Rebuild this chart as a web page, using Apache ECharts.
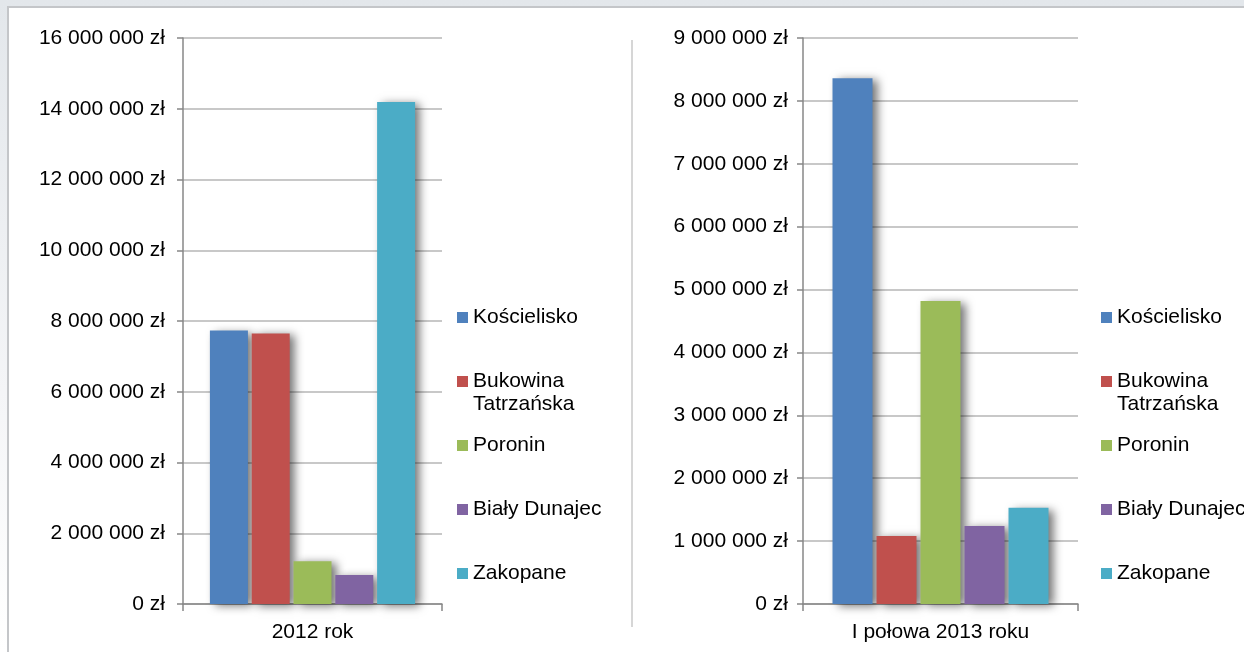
<!DOCTYPE html>
<html lang="pl">
<head>
<meta charset="utf-8">
<title>Wpływy gmin</title>
<script src="https://cdn.jsdelivr.net/npm/echarts@6/dist/echarts.min.js"></script>
<style>
  html, body { margin: 0; padding: 0; width: 1244px; height: 652px; overflow: hidden; }
  body { background: linear-gradient(#e3e7eb, #f4f5f7 60%, #ffffff); position: relative; }
  #frame {
    position: absolute; left: 7px; top: 6px; right: -10px; bottom: -10px;
    background: #ffffff;
    border-top: 2px solid #c4c6c9; border-left: 2px solid #c4c6c9;
  }
  #chart { position: absolute; left: 0; top: 0; width: 1244px; height: 652px; }
</style>
</head>
<body>
<div id="frame"></div>
<div id="chart"></div>
<script>
// Gminy (series) and their totals in PLN
const municipalities = ['Kościelisko', 'Bukowina Tatrzańska', 'Poronin', 'Biały Dunajec', 'Zakopane'];
const colors = ['#4f81bd', '#c0504d', '#9bbb59', '#8064a2', '#4bacc6'];

const categoriesLeft = ['2012 rok'];
const values2012 = [7730000, 7650000, 1210000, 820000, 14190000];

const categoriesRight = ['I połowa 2013 roku'];
const valuesH1_2013 = [8360000, 1080000, 4820000, 1240000, 1530000];

// value-axis tick settings
const leftAxisMax = 16000000, leftAxisStep = 2000000;
const rightAxisMax = 9000000, rightAxisStep = 1000000;

const FONT = '"Liberation Sans", Arial, sans-serif';
const FONT_SIZE = 21;
const LINE_H = 25;
const LEGEND_STEP = 64;   // distance between legend entries
const LEGEND_TOP = 305;
const AXIS_GREY = '#878787';
const GRID_GREY = '#c8c8c8';

function zl(v) {
  return String(v).replace(/\B(?=(\d{3})+(?!\d))/g, ' ') + ' zł';
}

// the long name wraps; the second line hangs below so the icon sits beside the first line
function legendName(name) {
  return name === 'Bukowina Tatrzańska' ? '{a|Bukowina}\n{b|Tatrzańska}' : name;
}

function xAxisFor(gridIndex, cats) {
  return {
    type: 'category', gridIndex: gridIndex, data: cats,
    axisLine: { lineStyle: { color: AXIS_GREY, width: 1.5 } },
    axisTick: { show: true, length: 7, interval: 0, lineStyle: { color: AXIS_GREY, width: 1.5 } },
    axisLabel: { color: '#000', fontFamily: FONT, fontSize: FONT_SIZE, margin: 18 },
    splitLine: { show: false }
  };
}

function yAxisFor(gridIndex, max, step, margin) {
  return {
    type: 'value', gridIndex: gridIndex, min: 0, max: max, interval: step,
    axisLine: { show: true, lineStyle: { color: AXIS_GREY, width: 1.5 } },
    axisTick: { show: true, length: 6, lineStyle: { color: AXIS_GREY, width: 1.5 } },
    axisLabel: { color: '#000', fontFamily: FONT, fontSize: FONT_SIZE, margin: margin, formatter: zl },
    splitLine: { show: true, lineStyle: { color: GRID_GREY, width: 2 } }
  };
}

function seriesFor(axisIndex, values, barWidth) {
  return municipalities.map((name, i) => ({
    name: name,
    type: 'bar',
    xAxisIndex: axisIndex, yAxisIndex: axisIndex,
    data: [values[i]],
    barWidth: barWidth,
    barGap: '10%',
    itemStyle: {
      color: colors[i],
      shadowBlur: 9, shadowColor: 'rgba(0,0,0,0.55)',
      shadowOffsetX: 5, shadowOffsetY: 2
    },
    emphasis: { disabled: true }
  }));
}

// one legend block; a panel's legend is split in two blocks so the
// wrapped entry does not push the entries below it
function legendBlock(left, names, firstIndex) {
  const base = { color: '#000', fontFamily: FONT, fontSize: FONT_SIZE };
  return {
    orient: 'vertical', left: left, top: LEGEND_TOP + firstIndex * LEGEND_STEP, padding: 0,
    itemWidth: 11, itemHeight: 11, itemGap: LEGEND_STEP - LINE_H, icon: 'rect',
    data: names,
    formatter: legendName,
    textStyle: Object.assign({}, base, {
      lineHeight: LINE_H,
      rich: {
        a: Object.assign({}, base, { lineHeight: LINE_H }),
        b: Object.assign({}, base, { lineHeight: 0, verticalAlign: 'top' })
      }
    })
  };
}

function panelLegend(left) {
  return [
    legendBlock(left, municipalities.slice(0, 2), 0),
    legendBlock(left, municipalities.slice(2), 2)
  ];
}

const chart = echarts.init(document.getElementById('chart'), null, { renderer: 'canvas' });
chart.setOption({
  animation: false,
  color: colors,
  textStyle: { fontFamily: FONT },
  grid: [
    { left: 183, top: 38, width: 259, height: 566, containLabel: false, outerBoundsMode: 'none' },
    { left: 803, top: 38, width: 275, height: 566, containLabel: false, outerBoundsMode: 'none' }
  ],
  xAxis: [xAxisFor(0, categoriesLeft), xAxisFor(1, categoriesRight)],
  yAxis: [yAxisFor(0, leftAxisMax, leftAxisStep, 18), yAxisFor(1, rightAxisMax, rightAxisStep, 15)],
  legend: panelLegend(457).concat(panelLegend(1101)),
  graphic: [{
    type: 'line', silent: true,
    shape: { x1: 632, y1: 40, x2: 632, y2: 627 },
    style: { stroke: '#d6d6d6', lineWidth: 2 }
  }],
  series: seriesFor(0, values2012, 38).concat(seriesFor(1, valuesH1_2013, 40))
});
</script>
</body>
</html>
